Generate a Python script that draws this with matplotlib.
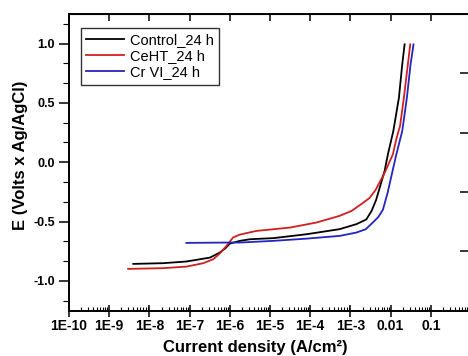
import matplotlib
matplotlib.use("Agg")
import matplotlib.pyplot as plt
from matplotlib.ticker import FixedLocator, FixedFormatter, LogLocator, NullFormatter, MultipleLocator, NullLocator

# Polarization curves (current density A/cm2, E in V)
control_i = [3.98e-9, 2.2e-8, 8.3e-8, 3.2e-7, 5.6e-7, 7.8e-7, 1.0e-6, 1.78e-6, 3.2e-6,
             1.2e-5, 8.1e-5, 5.41e-4, 1.41e-3, 2.49e-3, 3.37e-3, 4.36e-3, 5.33e-3,
             7.10e-3, 8.57e-3, 1.17e-2, 1.61e-2, 1.95e-2, 2.23e-2]
control_e = [-0.857, -0.851, -0.837, -0.804, -0.762, -0.725, -0.686, -0.663, -0.649,
             -0.640, -0.607, -0.564, -0.522, -0.482, -0.410, -0.318, -0.217,
             -0.073, 0.067, 0.264, 0.544, 0.826, 0.994]

ceht_i = [2.95e-9, 2.2e-8, 8.3e-8, 2.2e-7, 3.9e-7, 5.6e-7, 8.3e-7, 1.2e-6, 1.78e-6,
          4.6e-6, 3.1e-5, 1.4e-4, 5.41e-4, 1.07e-3, 1.90e-3, 3.0e-3, 4.24e-3, 7.10e-3,
          1.14e-2, 1.41e-2, 1.72e-2, 2.14e-2, 2.69e-2, 3.08e-2]
ceht_e = [-0.899, -0.893, -0.880, -0.851, -0.817, -0.770, -0.705, -0.635, -0.610,
          -0.579, -0.551, -0.509, -0.452, -0.410, -0.351, -0.301, -0.233, -0.090,
          0.067, 0.205, 0.306, 0.544, 0.826, 0.994]

crvi_i = [8.3e-8, 1.0e-6, 1.78e-6, 1.2e-5, 8.1e-5, 5.4e-4, 1.4e-3, 2.4e-3, 3.57e-3,
          5.0e-3, 6.44e-3, 8.4e-3, 1.09e-2, 1.39e-2, 1.95e-2, 2.54e-2, 3.14e-2, 3.72e-2]
crvi_e = [-0.680, -0.677, -0.677, -0.663, -0.644, -0.621, -0.593, -0.565, -0.510,
          -0.460, -0.400, -0.260, -0.090, 0.067, 0.264, 0.544, 0.826, 0.994]

xticks = [1e-10, 1e-9, 1e-8, 1e-7, 1e-6, 1e-5, 1e-4, 1e-3, 1e-2, 1e-1, 1]
xlabels = ["1E-10", "1E-9", "1E-8", "1E-7", "1E-6", "1E-5", "1E-4", "1E-3", "0.01", "0.1", ""]
yticks = [-1.0, -0.5, 0.0, 0.5, 1.0]
ylabels = ["-1.0", "-0.5", "0.0", "0.5", "1.0"]
# ticks of the neighbouring panel that show at the cut right edge
right_ticks = [-0.75, -0.25, 0.25, 0.75]

plt.rcParams["font.family"] = ["Liberation Sans", "DejaVu Sans"]

fig = plt.figure(figsize=(4.68, 3.56), dpi=100)
# the original panel is cut off on the right, so the axes run past the figure edge
ax = fig.add_axes([69 / 468, 1 - 310.5 / 356, 402 / 468, 296.5 / 356])

ax.plot(control_i, control_e, color="black", lw=1.3, label="Control_24 h")
ax.plot(ceht_i, ceht_e, color="#d02020", lw=1.3, label="CeHT_24 h")
ax.plot(crvi_i, crvi_e, color="#2424c0", lw=1.3, label="Cr VI_24 h")

ax.set_xscale("log")
ax.set_xlim(1e-10, 1)
ax.set_ylim(-1.25, 1.25)

ax.xaxis.set_major_locator(FixedLocator(xticks))
ax.xaxis.set_major_formatter(FixedFormatter(xlabels))
ax.xaxis.set_minor_locator(LogLocator(base=10, subs=range(2, 10), numticks=20))
ax.xaxis.set_minor_formatter(NullFormatter())
ax.set_yticks(yticks)
ax.set_yticklabels(ylabels)
ax.yaxis.set_minor_locator(MultipleLocator(0.5 / 3))

ax.tick_params(axis="x", which="major", direction="inout", length=8, width=1.1,
               labelsize=10, pad=2)
ax.tick_params(axis="x", which="minor", direction="in", length=3, width=0.8)
ax.tick_params(axis="y", which="major", direction="out", length=7, width=1.1,
               labelsize=9, pad=3)
ax.tick_params(axis="y", which="minor", direction="out", length=4, width=0.8)
for lbl in ax.get_xticklabels() + ax.get_yticklabels():
    lbl.set_fontweight("bold")
for sp in ax.spines.values():
    sp.set_linewidth(1.4)

top = ax.secondary_xaxis("top")
top.xaxis.set_major_locator(FixedLocator(xticks))
top.xaxis.set_minor_locator(NullLocator())
top.tick_params(direction="in", length=5, width=1.1, labeltop=False)

right = ax.secondary_yaxis("right")
right.yaxis.set_major_locator(FixedLocator(right_ticks))
right.yaxis.set_minor_locator(NullLocator())
right.tick_params(direction="in", length=8, width=1.1, labelright=False)

ax.set_xlabel("Current density (A/cm²)", fontsize=12, fontweight="bold")
ax.xaxis.set_label_coords((255.5 - 69) / 402, -(340 - 310.5) / 296.5, transform=ax.transAxes)
ax.set_ylabel("E (Volts x Ag/AgCl)", fontsize=12, fontweight="bold")
ax.yaxis.set_label_coords(-(69 - 28) / 402, (310.5 - 155.5) / 296.5, transform=ax.transAxes)

leg = ax.legend(loc="upper left", bbox_to_anchor=(11.7 / 402, 1 - 14 / 296.5),
                fontsize=10.5, frameon=True, fancybox=False, handlelength=2.6,
                handletextpad=0.4, borderpad=0.35, labelspacing=0.15, borderaxespad=0)
leg.get_frame().set_edgecolor("black")
leg.get_frame().set_linewidth(1.0)

fig.savefig("out.png", dpi=100)
